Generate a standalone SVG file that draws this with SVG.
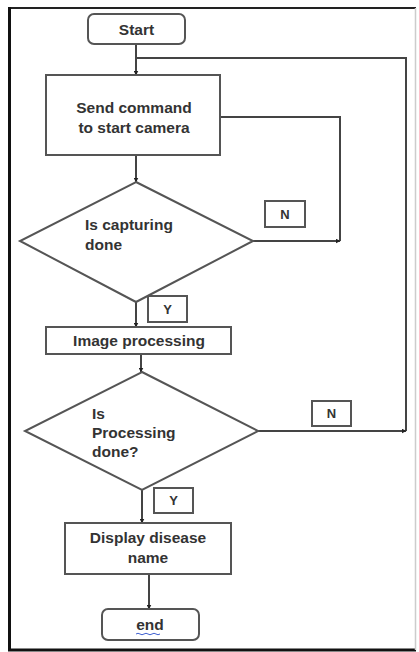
<svg xmlns="http://www.w3.org/2000/svg" width="419" height="652" viewBox="0 0 419 652">
<defs>
<marker id="ah" viewBox="0 0 10 10" refX="9" refY="5" markerWidth="5" markerHeight="5" orient="auto" markerUnits="userSpaceOnUse">
<path d="M0,0 L10,5 L0,10 z" fill="#222"/>
</marker>
<style>
.shape{fill:#fff;stroke:#555;stroke-width:2}
.lbl{fill:#fff;stroke:#555;stroke-width:2}
.t{font-family:"Liberation Sans",Arial,sans-serif;font-weight:700;font-size:15.5px;fill:#333}
.s{font-family:"Liberation Sans",Arial,sans-serif;font-weight:700;font-size:13px;fill:#333}
.c{fill:none;stroke:#444;stroke-width:2}
</style>
</defs>
<rect x="0" y="0" width="419" height="652" fill="#fff"/>
<g id="frame">
<line x1="9" y1="8" x2="416" y2="8" stroke="#222" stroke-width="2"/>
<line x1="9.5" y1="7" x2="9.5" y2="651" stroke="#111" stroke-width="3"/>
<line x1="8" y1="650" x2="416" y2="650" stroke="#111" stroke-width="3"/>
<line x1="415.5" y1="8" x2="415.5" y2="650" stroke="#ccc" stroke-width="1.5"/>
</g>
<g id="connectors">
<line class="c" x1="136" y1="44" x2="136" y2="75" marker-end="url(#ah)"/>
<polyline class="c" points="136,58 406,58 406,431"/>
<polyline class="c" points="220,117 340,117 340,241"/>
<line class="c" x1="253" y1="241" x2="340" y2="241" marker-end="url(#ah)"/>
<line class="c" x1="136" y1="155" x2="136" y2="182" marker-end="url(#ah)"/>
<line class="c" x1="136" y1="302" x2="136" y2="327" marker-end="url(#ah)"/>
<line class="c" x1="141" y1="354" x2="141" y2="372" marker-end="url(#ah)"/>
<line class="c" x1="258" y1="431" x2="406" y2="431" marker-end="url(#ah)"/>
<line class="c" x1="142" y1="490" x2="142" y2="523" marker-end="url(#ah)"/>
<line class="c" x1="149" y1="574" x2="149" y2="609" marker-end="url(#ah)"/>
</g>
<g id="start">
<rect class="shape" x="88" y="14" width="97" height="30" rx="6"/>
<text class="t" x="136.5" y="35" text-anchor="middle">Start</text>
</g>
<g id="send">
<rect class="shape" x="46" y="75" width="174" height="80"/>
<text class="t" x="134" y="113" text-anchor="middle">Send command</text>
<text class="t" x="134" y="133" text-anchor="middle">to start camera</text>
</g>
<g id="capture">
<polygon class="shape" points="136,182 253,241 136,302 20,241"/>
<text class="t" x="85" y="230">Is capturing</text>
<text class="t" x="85" y="250">done</text>
</g>
<g id="labelN1">
<rect class="lbl" x="265" y="201" width="40" height="26"/>
<text class="s" x="285" y="219" text-anchor="middle">N</text>
</g>
<g id="labelY1">
<rect class="lbl" x="148" y="296" width="39" height="26"/>
<text class="s" x="167.5" y="314" text-anchor="middle">Y</text>
</g>
<g id="imgproc">
<rect class="shape" x="46" y="327" width="185" height="27"/>
<text class="t" x="139" y="346" text-anchor="middle">Image processing</text>
</g>
<g id="procdone">
<polygon class="shape" points="142,372 258,431 142,490 25,431"/>
<text class="t" x="92" y="419">Is</text>
<text class="t" x="92" y="438">Processing</text>
<text class="t" x="92" y="457">done?</text>
</g>
<g id="labelN2">
<rect class="lbl" x="312" y="401" width="39" height="25"/>
<text class="s" x="331.5" y="418" text-anchor="middle">N</text>
</g>
<g id="labelY2">
<rect class="lbl" x="154" y="488" width="39" height="25"/>
<text class="s" x="173.5" y="505" text-anchor="middle">Y</text>
</g>
<g id="display">
<rect class="shape" x="65" y="523" width="166" height="51"/>
<text class="t" x="148" y="543" text-anchor="middle">Display disease</text>
<text class="t" x="148" y="563" text-anchor="middle">name</text>
</g>
<g id="end">
<rect class="shape" x="102" y="609" width="97" height="31" rx="6"/>
<text class="t" x="150" y="630" text-anchor="middle">end</text>
<path d="M136,634 q2,-1.5 4,0 t4,0 t4,0 t4,0 t4,0 t4,0" fill="none" stroke="#4060d0" stroke-width="1"/>
</g>
</svg>
